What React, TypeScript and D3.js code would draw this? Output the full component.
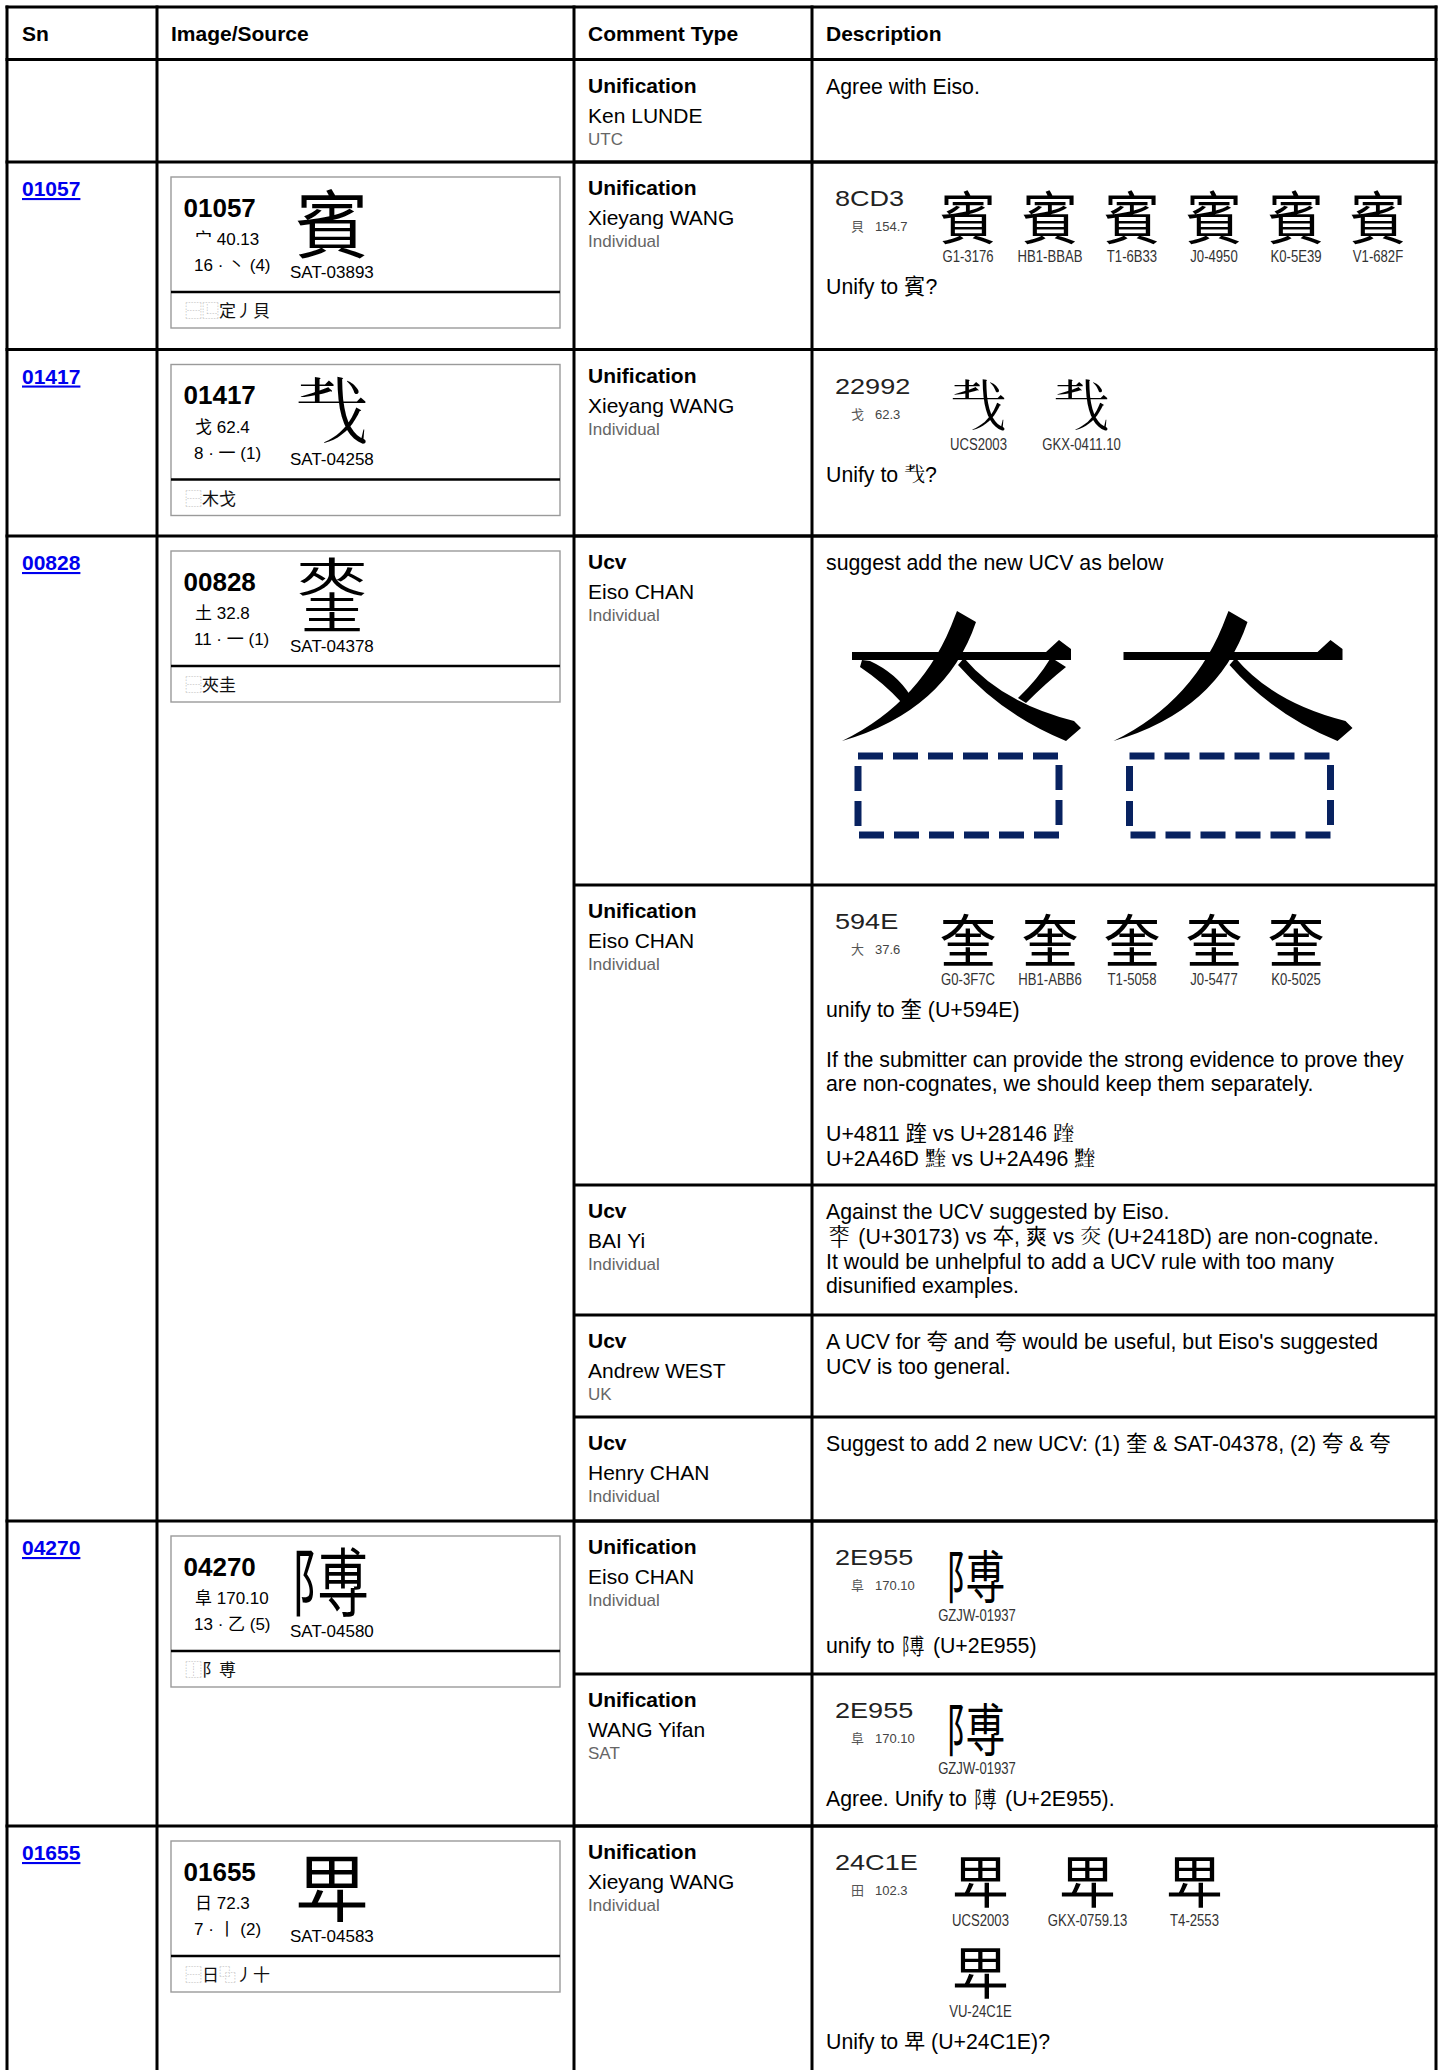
import React from 'react';
import * as d3 from 'd3';

// ---------------- data ----------------
const headerLabels = ['Sn', 'Image/Source', 'Comment Type', 'Description'];

const snIds = ['', '01057', '01417', '00828', '04270', '01655'];
const satCodes = ['', 'SAT-03893', 'SAT-04258', 'SAT-04378', 'SAT-04580', 'SAT-04583'];
const radicalInfo = ['', '宀 40.13', '戈 62.4', '土 32.8', '阜 170.10', '日 72.3'];
const strokeInfo = ['', '16 · 丶 (4)', '8 · 一 (1)', '11 · 一 (1)', '13 · 乙 (5)', '7 · 丨 (2)'];
const idsSeqs = ['', '⿱⿺定丿貝', '⿱木戈', '⿱夾圭', '⿰阝尃', '⿱日⿻丿十'];
const satGlyphs = ['', '賓', '𢦒', '⿱夾圭', '𮥕', '𤰞'];

const commentTypes = ['Unification', 'Unification', 'Unification', 'Ucv', 'Unification', 'Ucv', 'Ucv', 'Ucv', 'Unification', 'Unification', 'Unification'];
const commenters = ['Ken LUNDE', 'Xieyang WANG', 'Xieyang WANG', 'Eiso CHAN', 'Eiso CHAN', 'BAI Yi', 'Andrew WEST', 'Henry CHAN', 'Eiso CHAN', 'WANG Yifan', 'Xieyang WANG'];
const affiliations = ['UTC', 'Individual', 'Individual', 'Individual', 'Individual', 'Individual', 'UK', 'Individual', 'Individual', 'SAT', 'Individual'];
const commentEvidence = [-1, 0, 1, -1, 2, -1, -1, -1, 3, 3, 4];
const descLines: string[][] = [
  ['Agree with Eiso.'],
  ['Unify to 賓?'],
  ['Unify to 𢦒?'],
  ['suggest add the new UCV as below'],
  ['unify to 奎 (U+594E)', '', 'If the submitter can provide the strong evidence to prove they', 'are non-cognates, we should keep them separately.', '', 'U+4811 䠑 vs U+28146 𨅆', 'U+2A46D 𪑭 vs U+2A496 𪒖'],
  ['Against the UCV suggested by Eiso.', '𰅳 (U+30173) vs 夲, 爽 vs 𤆍 (U+2418D) are non-cognate.', 'It would be unhelpful to add a UCV rule with too many', 'disunified examples.'],
  ["A UCV for 夸 and 夸 would be useful, but Eiso's suggested", 'UCV is too general.'],
  ['Suggest to add 2 new UCV: (1) 奎 & SAT-04378, (2) 夸 & 夸'],
  ['unify to 𮥕 (U+2E955)'],
  ['Agree. Unify to 𮥕 (U+2E955).'],
  ['Unify to 𤰞 (U+24C1E)?'],
];

const evidenceCodes = ['8CD3', '22992', '594E', '2E955', '24C1E'];
const evidenceRadicals = ['貝', '戈', '大', '阜', '田'];
const evidenceRadicalNums = ['154.7', '62.3', '37.6', '170.10', '102.3'];
const evidenceGlyphs = ['賓', '𢦒', '奎', '𮥕', '𤰞'];
const evidenceSources = [
  ['G1-3176', 'HB1-BBAB', 'T1-6B33', 'J0-4950', 'K0-5E39', 'V1-682F'],
  ['UCS2003', 'GKX-0411.10'],
  ['G0-3F7C', 'HB1-ABB6', 'T1-5058', 'J0-5477', 'K0-5025'],
  ['GZJW-01937'],
  ['UCS2003', 'GKX-0759.13', 'T4-2553', 'VU-24C1E'],
];

// ---------------- layout ----------------
const W = 1445;
const H = 2070;
const COLS = [7, 157, 574, 812, 1436];
const TOP = 7;
const HEADER_BOTTOM = 59.5;
const groupBottoms = [162, 349.5, 536, 1521, 1826, 2090];
const commentBottoms = [162, 349.5, 536, 885, 1185, 1315, 1417, 1521, 1674, 1826, 2090];
const evidenceSpacing = [82, 103, 82, 100, 107];
const evidencePerRow = [6, 2, 5, 1, 3];

const LATIN = "'Liberation Sans', Arial";
const CJK = "'Noto Sans CJK TC', 'Noto Sans CJK JP', 'Noto Sans CJK SC', sans-serif";
const FONT = `${LATIN}, ${CJK}`;
const IDC = /[\u2FF0-\u2FFB]/;
const DESC_SIZE = 21.3;

// glyphs missing from installed fonts, built from their components
const composites: Record<string, { ch: string; box: [number, number, number, number] }[]> = {
  '⿱夾圭': [
    { ch: '夾', box: [0.02, -0.04, 0.98, 0.52] },
    { ch: '圭', box: [0.08, 0.44, 0.92, 1.02] },
  ],
  '𮥕': [
    { ch: '阝', box: [-0.05, 0, 0.55, 1] },
    { ch: '尃', box: [0.3, 0, 1.0, 1] },
  ],
  '𰅳': [
    { ch: '夾', box: [0.0, -0.04, 1.0, 0.5] },
    { ch: '十', box: [0.08, 0.4, 0.92, 1.04] },
  ],
};

let ctx: CanvasRenderingContext2D | null = null;
function textWidth(s: string, size: number) {
  if (!ctx) ctx = document.createElement('canvas').getContext('2d');
  if (!ctx) return s.length * size * 0.5;
  ctx.font = `${size}px "Liberation Sans", Arial, "Noto Sans CJK TC", sans-serif`;
  return ctx.measureText(s).width;
}

function Glyph({ ch, cx, cy, size, fill = '#000' }: { ch: string; cx: number; cy: number; size: number; fill?: string }) {
  const parts = composites[ch];
  if (parts) {
    const sx = d3.scaleLinear().domain([0, 1]).range([cx - size / 2, cx + size / 2]);
    const sy = d3.scaleLinear().domain([0, 1]).range([cy - size / 2, cy + size / 2]);
    return (
      <g>
        {parts.map((p, i) => (
          <text
            key={i}
            transform={`translate(${sx((p.box[0] + p.box[2]) / 2)},${sy((p.box[1] + p.box[3]) / 2)}) scale(${p.box[2] - p.box[0]},${p.box[3] - p.box[1]})`}
            fontFamily={CJK}
            fontSize={size}
            textAnchor="middle"
            dominantBaseline="central"
            fill={fill}
          >
            {p.ch}
          </text>
        ))}
      </g>
    );
  }
  return (
    <text x={cx} y={cy} fontFamily={CJK} fontSize={size} textAnchor="middle" dominantBaseline="central" fill={fill}>
      {ch}
    </text>
  );
}

// a text line which may contain composite glyphs
function RichLine({ text, x, y, size }: { text: string; x: number; y: number; size: number }) {
  const chars = Array.from(text);
  const segs: { s: string; comp: boolean }[] = [];
  chars.forEach((c) => {
    const comp = !!composites[c];
    const last = segs[segs.length - 1];
    if (!comp && last && !last.comp) last.s += c;
    else segs.push({ s: c, comp });
  });
  if (segs.every((s) => !s.comp)) {
    return (
      <text x={x} y={y} fontSize={size} fill="#000">
        {text}
      </text>
    );
  }
  let cur = x;
  const pad = size * 0.12;
  return (
    <g>
      {segs.map((seg, i) => {
        if (seg.comp) {
          const start = cur + pad;
          cur = start + size + pad;
          return <Glyph key={i} ch={seg.s} cx={start + size / 2} cy={y - size * 0.38} size={size} />;
        }
        const start = cur;
        cur += textWidth(seg.s, size);
        return (
          <text key={i} x={start} y={y} fontSize={size} fill="#000" style={{ whiteSpace: 'pre' }}>
            {seg.s}
          </text>
        );
      })}
    </g>
  );
}

// UCV illustration strokes (local glyph units)
function barPath() {
  const p = d3.path();
  p.moveTo(0, 41); p.lineTo(194, 41); p.lineTo(207, 29); p.lineTo(219, 38); p.lineTo(219, 49); p.lineTo(0, 49); p.closePath();
  return p.toString();
}
function leftSweepPath() {
  const p = d3.path();
  p.moveTo(105, 0); p.lineTo(124, 11); p.quadraticCurveTo(94, 100, -10, 130); p.quadraticCurveTo(72, 90, 103, 5); p.closePath();
  return p.toString();
}
function rightSweepPath() {
  const p = d3.path();
  p.moveTo(112, 47); p.quadraticCurveTo(150, 92, 222, 110); p.lineTo(229, 117); p.lineTo(214, 130); p.quadraticCurveTo(150, 104, 106, 54); p.closePath();
  return p.toString();
}
function leftDotPath() {
  const p = d3.path();
  p.moveTo(10, 49); p.lineTo(18, 50); p.quadraticCurveTo(44, 62, 58, 84); p.lineTo(50, 92); p.quadraticCurveTo(32, 72, 8, 56); p.closePath();
  return p.toString();
}
function rightDotPath() {
  const p = d3.path();
  p.moveTo(203, 49); p.lineTo(214, 56); p.quadraticCurveTo(194, 72, 174, 92); p.lineTo(166, 87); p.quadraticCurveTo(186, 68, 198, 48); p.closePath();
  return p.toString();
}

function UcvIllustration({ x, y }: { x: number; y: number }) {
  const origins = [[x, y], [x + 271.5, y]];
  return (
    <g>
      {origins.map(([ox, oy], i) => (
        <g key={i} transform={`translate(${ox},${oy})`}>
          <path d={barPath()} fill="#000" />
          <path d={leftSweepPath()} fill="#000" />
          <path d={rightSweepPath()} fill="#000" />
          {i === 0 && <path d={leftDotPath()} fill="#000" />}
          {i === 0 && <path d={rightDotPath()} fill="#000" />}
          <rect x={6} y={145} width={201} height={79} fill="none" stroke="#082260" strokeWidth={7} strokeDasharray="25 10" />
        </g>
      ))}
    </g>
  );
}

function Evidence({ idx, top }: { idx: number; top: number }) {
  const spacing = evidenceSpacing[idx];
  const perRow = evidencePerRow[idx];
  const xs = d3.scaleLinear().domain([0, 1]).range([927, 927 + spacing]);
  const ys = d3.scaleLinear().domain([0, 1]).range([0, 91]);
  return (
    <g>
      <text transform={`translate(835,${top + 44}) scale(1.23,1)`} fontSize={22} fill="#222">
        {evidenceCodes[idx]}
      </text>
      <text x={851} y={top + 69} fontFamily={CJK} fontSize={13} fill="#555">
        {evidenceRadicals[idx]}
      </text>
      <text x={875} y={top + 69} fontSize={13} fill="#444">
        {evidenceRadicalNums[idx]}
      </text>
      {evidenceSources[idx].map((src, i) => {
        const col = i % perRow;
        const row = Math.floor(i / perRow);
        const cx = xs(col + 0.5);
        return (
          <g key={i}>
            <Glyph ch={evidenceGlyphs[idx]} cx={cx} cy={top + 52 + ys(row)} size={57} />
            <text transform={`translate(${cx},${top + 100 + ys(row)}) scale(0.82,1)`} fontSize={16} textAnchor="middle" fill="#333">
              {src}
            </text>
          </g>
        );
      })}
    </g>
  );
}

export default function App() {
  const groupTops = [HEADER_BOTTOM, ...groupBottoms.slice(0, -1)];
  const commentTops = [HEADER_BOTTOM, ...commentBottoms.slice(0, -1)];
  const headerX = [22, 171, 588, 826];
  const lineH = 24.8;

  return (
    <svg width={W} height={H} style={{ position: 'absolute', left: 0, top: 0, background: '#fff' }} fontFamily={FONT}>
      <rect x={0} y={0} width={W} height={H} fill="#fff" />

      {/* header */}
      {headerLabels.map((h, i) => (
        <text key={h} x={headerX[i]} y={41} fontSize={21} fontWeight="bold" fill="#000">
          {h}
        </text>
      ))}

      {/* Sn + image/source groups */}
      {groupTops.map((gt, g) => {
        if (g === 0) return null;
        const bt = gt + 15;
        return (
          <g key={g}>
            <text x={22} y={gt + 34} fontSize={21} fontWeight="bold" fill="#0000EE" style={{ textDecoration: 'underline' }}>
              {snIds[g]}
            </text>
            <rect x={171} y={bt} width={389} height={151} fill="none" stroke="#9a9a9a" strokeWidth={1.4} />
            <line x1={171} x2={560} y1={bt + 115} y2={bt + 115} stroke="#000" strokeWidth={2.6} />
            <text x={183.5} y={bt + 39.5} fontSize={26} fontWeight="bold" fill="#000">
              {snIds[g]}
            </text>
            <text x={195} y={bt + 68} fontSize={17} fill="#000">
              {radicalInfo[g]}
            </text>
            <text x={194} y={bt + 94} fontSize={17} fill="#000">
              {strokeInfo[g]}
            </text>
            <text x={290} y={bt + 100.5} fontSize={17} fill="#000">
              {satCodes[g]}
            </text>
            <Glyph ch={satGlyphs[g]} cx={332} cy={bt + 42} size={74} />
            <text x={185} y={bt + 140} fontSize={17} fontFamily={CJK}>
              {Array.from(idsSeqs[g]).map((c, i) => (
                <tspan key={i} fill={IDC.test(c) ? '#b0b0b0' : '#111'}>
                  {c}
                </tspan>
              ))}
            </text>
          </g>
        );
      })}

      {/* comments */}
      {commentTops.map((ct, c) => {
        const ev = commentEvidence[c];
        const extraRows = ev >= 0 ? Math.ceil(evidenceSources[ev].length / evidencePerRow[ev]) - 1 : 0;
        const firstBase = ev >= 0 ? ct + 132 + extraRows * 91 : ct + 34;
        return (
          <g key={c}>
            <text x={588} y={ct + 33} fontSize={21} fontWeight="bold" fill="#000">
              {commentTypes[c]}
            </text>
            <text x={588} y={ct + 63} fontSize={21} fill="#000">
              {commenters[c]}
            </text>
            <text x={588} y={ct + 85} fontSize={17} fill="#666">
              {affiliations[c]}
            </text>
            {ev >= 0 && <Evidence idx={ev} top={ct} />}
            {descLines[c].map((l, i) => (
              <RichLine key={i} text={l} x={826} y={firstBase + i * lineH} size={DESC_SIZE} />
            ))}
            {c === 3 && <UcvIllustration x={852} y={ct + 75} />}
          </g>
        );
      })}

      {/* grid lines */}
      {COLS.map((x) => (
        <line key={`v${x}`} x1={x} x2={x} y1={TOP - 1.5} y2={H} stroke="#000" strokeWidth={3} />
      ))}
      {[TOP, HEADER_BOTTOM, ...groupBottoms].map((y) => (
        <line key={`h${y}`} x1={COLS[0] - 1.5} x2={COLS[4] + 1.5} y1={y} y2={y} stroke="#000" strokeWidth={3} />
      ))}
      {commentBottoms.map((y) => (
        <line key={`c${y}`} x1={COLS[2]} x2={COLS[4]} y1={y} y2={y} stroke="#000" strokeWidth={3} />
      ))}
    </svg>
  );
}
